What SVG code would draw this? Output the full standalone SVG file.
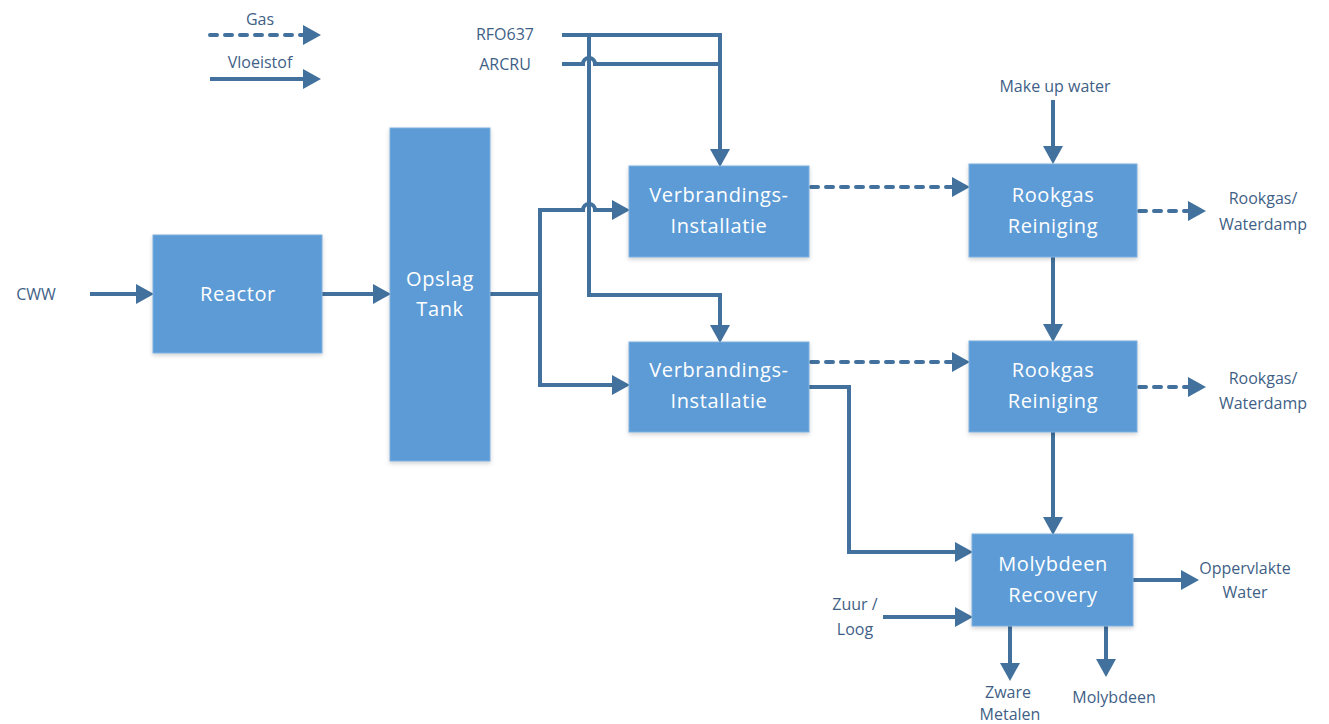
<svg xmlns="http://www.w3.org/2000/svg" width="1329" height="724" viewBox="0 0 1329 724">
<style>
.box{fill:#5B9BD5;stroke:#7FB0DE;stroke-width:1;filter:url(#sh)}
.bt{font-family:"Open Sans","Liberation Sans",sans-serif;font-size:20px;fill:#fff;text-anchor:middle;letter-spacing:0.6px}
.lb{font-family:"Open Sans","Liberation Sans",sans-serif;font-size:16px;fill:#3F5F86;text-anchor:middle}
.ln{fill:none;stroke:#41719C;stroke-width:4;stroke-linejoin:miter;marker-end:url(#ah)}
.nl{fill:none;stroke:#41719C;stroke-width:4}
.gas{fill:none;stroke:#41719C;stroke-width:4;stroke-dasharray:7 8;stroke-linecap:round;marker-end:url(#ah)}
</style>
<defs>
<marker id="ah" markerUnits="userSpaceOnUse" viewBox="0 0 18 20" refX="1" refY="10" markerWidth="18" markerHeight="20" orient="auto">
<path d="M0 0 L18 10 L0 20 Z" fill="#41719C"/>
</marker>
<filter id="sh" x="-10%" y="-10%" width="120%" height="125%">
<feDropShadow dx="0" dy="2" stdDeviation="2" flood-color="#000" flood-opacity="0.18"/>
</filter>
</defs>
<rect width="1329" height="724" fill="#fff"/>

<g id="connectors">
<path class="gas" d="M210 35 H304"/>
<path class="ln" d="M210 79 H304"/>
<path class="ln" d="M90 294 H137"/>
<path class="ln" d="M322 294 H374"/>
<path class="nl" d="M490 294 H540"/>
<path class="nl" d="M540 208 V385"/>
<path class="ln" d="M538 210 H583 a6 6 0 0 1 12 0 H613"/>
<path class="ln" d="M538 385 H613"/>
<path class="ln" d="M562 35 H720 V150"/>
<path class="nl" d="M562 64 H583 a6 6 0 0 1 12 0 H720"/>
<path class="ln" d="M589 35 V295 H720 V326"/>
<path class="gas" d="M811 187 H953"/>
<path class="gas" d="M811 362 H953"/>
<path class="gas" d="M1139 211 H1189"/>
<path class="gas" d="M1139 387 H1189"/>
<path class="ln" d="M1053 100 V147"/>
<path class="ln" d="M1053 257 V325"/>
<path class="ln" d="M1053 432 V518"/>
<path class="ln" d="M809 387 H849 V552 H956"/>
<path class="ln" d="M883 617 H956"/>
<path class="ln" d="M1133 580 H1182"/>
<path class="ln" d="M1010 626 V664"/>
<path class="ln" d="M1106 626 V660"/>
</g>

<g id="legend">
<text class="lb" x="260" y="25">Gas</text>
<text class="lb" x="260" y="68">Vloeistof</text>
</g>

<g id="reactor"><rect class="box" x="153" y="235" width="169" height="118"/><text class="bt" x="238" y="301">Reactor</text></g>
<g id="opslag"><rect class="box" x="390" y="128" width="100" height="333"/><text class="bt" x="440" y="286">Opslag</text><text class="bt" x="440" y="316">Tank</text></g>
<g id="verbranding1"><rect class="box" x="629" y="166" width="180" height="91"/><text class="bt" x="719" y="202">Verbrandings-</text><text class="bt" x="719" y="233">Installatie</text></g>
<g id="verbranding2"><rect class="box" x="629" y="342" width="180" height="90"/><text class="bt" x="719" y="377">Verbrandings-</text><text class="bt" x="719" y="408">Installatie</text></g>
<g id="rookgas1"><rect class="box" x="969" y="164" width="168" height="93"/><text class="bt" x="1053" y="202">Rookgas</text><text class="bt" x="1053" y="233">Reiniging</text></g>
<g id="rookgas2"><rect class="box" x="969" y="341" width="168" height="91"/><text class="bt" x="1053" y="377">Rookgas</text><text class="bt" x="1053" y="408">Reiniging</text></g>
<g id="molybdeen"><rect class="box" x="972" y="534" width="161" height="92"/><text class="bt" x="1053" y="571">Molybdeen</text><text class="bt" x="1053" y="602">Recovery</text></g>

<g id="labels">
<text class="lb" x="36" y="300">CWW</text>
<text class="lb" x="505" y="40">RFO637</text>
<text class="lb" x="505" y="70">ARCRU</text>
<text class="lb" x="1055" y="92">Make up water</text>
<text class="lb" x="1263" y="204">Rookgas/</text>
<text class="lb" x="1263" y="230">Waterdamp</text>
<text class="lb" x="1263" y="384">Rookgas/</text>
<text class="lb" x="1263" y="409">Waterdamp</text>
<text class="lb" x="1245" y="574">Oppervlakte</text>
<text class="lb" x="1245" y="598">Water</text>
<text class="lb" x="855" y="610">Zuur /</text>
<text class="lb" x="855" y="635">Loog</text>
<text class="lb" x="1008" y="698">Zware</text>
<text class="lb" x="1010" y="720">Metalen</text>
<text class="lb" x="1114" y="703">Molybdeen</text>
</g>
</svg>
